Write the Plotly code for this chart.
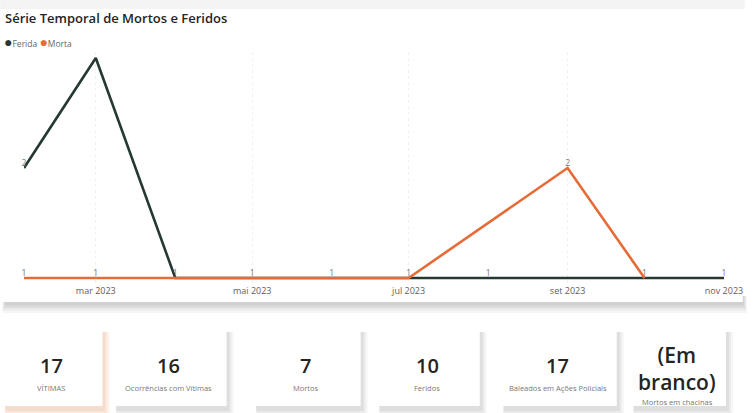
import plotly.graph_objects as go

# ---------------- data ----------------
months = ["2023-02-01", "2023-03-01", "2023-04-01", "2023-05-01", "2023-06-01",
          "2023-07-01", "2023-08-01", "2023-09-01", "2023-10-01", "2023-11-01"]
ferida = [2, 3, 1, 1, 1, 1, 1, 1, 1, 1]
morta = [1, 1, 1, 1, 1, 1, None, 2, 1, None]
ferida_labels = ["2", "", "1", "1", "1", "1", "1", "", "1", "1"]
morta_labels = ["1", "1", "", "", "", "", "", "2", "", ""]

tick_vals = ["2023-03-01", "2023-05-01", "2023-07-01", "2023-09-01", "2023-11-01"]
tick_text = ["mar 2023", "mai 2023", "jul 2023", "set 2023", "nov 2023"]

kpi_values = ["17", "16", "7", "10", "17", "(Em<br>branco)"]
kpi_labels = ["VÍTIMAS", "Ocorrências com Vítimas", "Mortos", "Feridos",
              "Baleados em Ações Policiais", "Mortos em chacinas"]

title_text = "Série Temporal de Mortos e Feridos"
series_names = ["Ferida", "Morta"]
series_colors = ["#253834", "#E66C37"]

# drop missing points (the line simply joins the neighbours)
m_x = [m for m, v in zip(months, morta) if v is not None]
m_y = [v for v in morta if v is not None]
m_t = [t for t, v in zip(morta_labels, morta) if v is not None]

# ---------------- layout geometry (pixels) ----------------
W, H = 755, 413
L, R, T, B = 24, 26, 52, 129
PW = W - L - R
PH = H - T - B
Y_PAD = 6 / 110


def px(x):
    return (x - L) / PW


def py(y):
    return (H - B - y) / PH


FONT = "Open Sans"

fig = go.Figure()

fig.add_trace(go.Scatter(
    x=months, y=ferida, mode="lines+text", name=series_names[0],
    line=dict(color=series_colors[0], width=2.6),
    text=ferida_labels, textposition="top center",
    textfont=dict(size=8.5, color="#777777", family=FONT),
    cliponaxis=False, showlegend=False,
))
fig.add_trace(go.Scatter(
    x=m_x, y=m_y, mode="lines+text", name=series_names[1],
    line=dict(color=series_colors[1], width=2.6),
    text=m_t, textposition="top center",
    textfont=dict(size=8.5, color="#777777", family=FONT),
    cliponaxis=False, showlegend=False,
))

shapes = []
# top grey strip
shapes.append(dict(type="rect", xref="paper", yref="paper", x0=px(0), x1=px(750),
                   y0=py(0), y1=py(9), fillcolor="#f4f4f4", line_width=0, layer="below"))
# chart card shadow
for i, c in enumerate(["#f5f5f5", "#e9e9e9", "#dcdcdc", "#d0d0d0"]):
    shapes.append(dict(type="rect", xref="paper", yref="paper",
                       x0=px(2 + i), x1=px(752 - i), y0=py(313 - 2.5 * i), y1=py(296),
                       fillcolor=c, line_width=0, layer="below"))
shapes.append(dict(type="rect", xref="paper", yref="paper", x0=px(0), x1=px(748),
                   y0=py(302), y1=py(9), fillcolor="#ffffff", line_width=0, layer="below"))

# KPI cards
cards = [(0, 103), (112, 228), (253, 363), (377, 483), (502, 621), (633, 731)]
card_top, card_bot = 328, 406
for k, (x0, x1) in enumerate(cards):
    if k == 0:
        shade = ["#fdf3ed", "#fae8dd", "#f6dccd"]
    else:
        shade = ["#f6f6f6", "#ebebeb", "#dedede"]
    for i, c in enumerate(shade):
        off = 7 - 2 * i
        shapes.append(dict(type="rect", xref="paper", yref="paper",
                           x0=px(x0 + 5), x1=px(x1 + off), y0=py(card_bot + off + 2),
                           y1=py(card_top + 4), fillcolor=c, line_width=0, layer="below"))
    shapes.append(dict(type="rect", xref="paper", yref="paper", x0=px(x0), x1=px(x1),
                       y0=py(card_bot), y1=py(card_top), fillcolor="#ffffff",
                       line_width=0, layer="below"))

annotations = []
annotations.append(dict(xref="paper", yref="paper", x=px(3), y=py(18), xanchor="left",
                        yanchor="middle", showarrow=False, text=title_text,
                        font=dict(family=FONT, size=13, color="#252423", weight=600)))
legend_html = (f"<span style='color:{series_colors[0]};font-size:14px'>●</span>{series_names[0]} "
               f"<span style='color:{series_colors[1]};font-size:14px'>●</span>{series_names[1]}")
annotations.append(dict(xref="paper", yref="paper", x=px(2), y=py(42), xanchor="left",
                        yanchor="middle", showarrow=False, text=legend_html,
                        font=dict(family=FONT, size=8.5, color="#666666")))

for k, (x0, x1) in enumerate(cards):
    cx = px((x0 + x1) / 2)
    if k == 5:
        annotations.append(dict(xref="paper", yref="paper", x=cx, y=py(368),
                                xanchor="center", yanchor="middle", showarrow=False,
                                text=kpi_values[k],
                                font=dict(family=FONT, size=21, color="#252423", weight=600)))
        annotations.append(dict(xref="paper", yref="paper", x=cx, y=py(402),
                                xanchor="center", yanchor="middle", showarrow=False,
                                text=kpi_labels[k],
                                font=dict(family=FONT, size=7.5, color="#777777")))
    else:
        annotations.append(dict(xref="paper", yref="paper", x=cx, y=py(365),
                                xanchor="center", yanchor="middle", showarrow=False,
                                text=kpi_values[k],
                                font=dict(family=FONT, size=20, color="#252423", weight=600)))
        annotations.append(dict(xref="paper", yref="paper", x=cx, y=py(388),
                                xanchor="center", yanchor="middle", showarrow=False,
                                text=kpi_labels[k],
                                font=dict(family=FONT, size=7.5, color="#777777")))

fig.update_layout(
    width=W, height=H,
    margin=dict(l=L, r=R, t=T, b=B, pad=0),
    paper_bgcolor="#ffffff", plot_bgcolor="rgba(0,0,0,0)",
    shapes=shapes, annotations=annotations,
    showlegend=False,
    xaxis=dict(type="date", range=[months[0], months[-1]], tickvals=tick_vals,
               ticktext=tick_text, showgrid=True, gridcolor="#f0f0f0", griddash="dot",
               gridwidth=1, zeroline=False, showline=False, ticks="",
               tickfont=dict(family=FONT, size=9, color="#605E5C"), ticklabelstandoff=0),
    yaxis=dict(range=[1 - Y_PAD, 3 + Y_PAD], visible=False, showgrid=False, zeroline=False),
)

fig.write_html("out.html", config={"displayModeBar": False},
               post_script="document.body.style.margin='0';document.body.style.overflow='hidden';")
